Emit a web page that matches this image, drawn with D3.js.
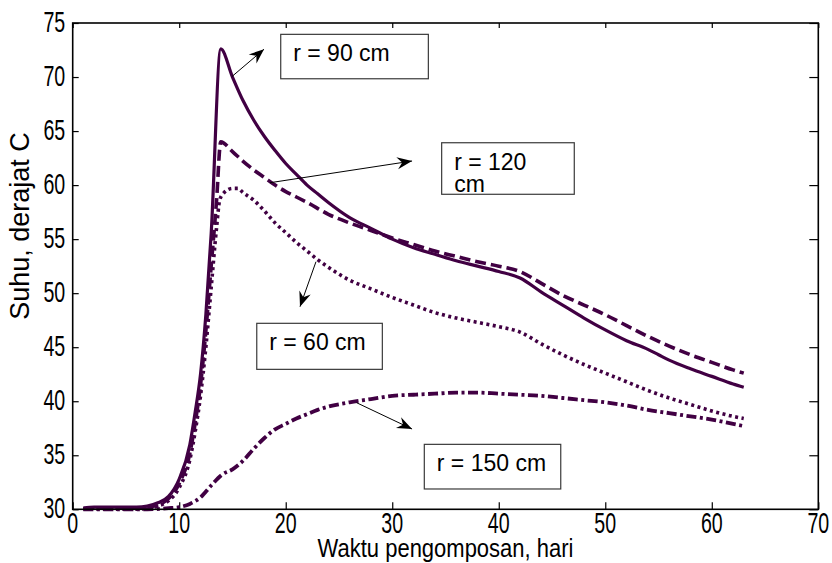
<!DOCTYPE html>
<html>
<head>
<meta charset="utf-8">
<script src="https://cdn.jsdelivr.net/npm/d3@7"></script>
<style>
  body { margin: 0; background: #fff; }
  svg { display: block; }
  text { font-family: "Liberation Sans", Arial, sans-serif; fill: #000; }
</style>
</head>
<body>
<svg id="chart" width="832" height="563"></svg>
<script>
// ---- data ----
const days90 = [1, 2, 3, 4, 5, 6, 7, 8, 9, 10, 11, 11.5, 12, 12.5, 13, 13.9, 15, 16, 17, 18, 19, 20, 21, 22, 23, 24, 26, 28, 30, 32, 34, 36, 38, 40, 42, 44, 46, 48, 50, 52, 54, 55, 56, 58, 60, 62, 63];
const temp90 = [30.1, 30.2, 30.2, 30.2, 30.2, 30.2, 30.3, 30.6, 31.2, 32.8, 36.0, 39.0, 42.5, 48.0, 55.5, 72.6, 70.0, 67.8, 66.0, 64.5, 63.2, 62.0, 61.0, 60.0, 59.2, 58.4, 57.0, 56.0, 55.0, 54.2, 53.6, 53.0, 52.5, 52.0, 51.4, 50.1, 48.9, 47.7, 46.6, 45.6, 44.8, 44.3, 43.8, 43.0, 42.3, 41.6, 41.3];

const days120 = [1, 2, 3, 4, 5, 6, 7, 8, 9, 10, 11, 11.5, 12, 12.5, 13, 13.5, 13.9, 15, 16, 17, 18, 19, 20, 21, 22, 24, 26, 28, 30, 32, 34, 36, 38, 40, 42, 44, 46, 48, 50, 52, 54, 56, 58, 60, 62, 63];
const temp120 = [30.1, 30.1, 30.1, 30.1, 30.1, 30.1, 30.2, 30.4, 31.0, 32.4, 35.2, 38.0, 41.5, 46.5, 52.5, 58.5, 64.0, 63.1, 62.2, 61.4, 60.7, 60.0, 59.4, 58.9, 58.4, 57.3, 56.5, 55.8, 55.1, 54.5, 53.9, 53.4, 52.9, 52.5, 52.0, 50.9, 49.8, 48.9, 48.0, 47.0, 46.0, 45.1, 44.3, 43.6, 42.9, 42.6];

const days60 = [1, 2, 3, 4, 5, 6, 7, 8, 9, 10, 11, 11.5, 12, 12.5, 13, 13.5, 13.8, 14.2, 15, 15.5, 16, 17, 18, 19, 20, 21, 22, 23, 24, 26, 28, 30, 32, 34, 36, 38, 40, 42, 44, 46, 48, 50, 52, 54, 56, 58, 60, 62, 63];
const temp60 = [30.0, 30.0, 30.0, 30.0, 30.0, 30.0, 30.1, 30.3, 30.8, 32.0, 34.6, 37.2, 40.5, 45.0, 50.5, 56.0, 58.6, 59.3, 59.7, 59.7, 59.3, 58.6, 57.6, 56.5, 55.6, 54.7, 53.9, 53.1, 52.4, 51.2, 50.4, 49.6, 48.9, 48.2, 47.7, 47.3, 46.9, 46.4, 45.3, 44.3, 43.4, 42.6, 41.8, 41.0, 40.3, 39.7, 39.1, 38.6, 38.4];

const days150 = [1, 3, 5, 7, 9, 10, 11, 12, 13, 14, 15, 16, 17, 18, 19, 20, 21, 22, 23, 24, 26, 28, 30, 32, 34, 36, 38, 40, 42, 44, 46, 48, 50, 52, 54, 56, 58, 60, 62, 63];
const temp150 = [30.0, 30.0, 30.0, 30.0, 30.1, 30.2, 30.5, 31.1, 32.2, 33.2, 33.7, 34.5, 35.6, 36.6, 37.4, 37.9, 38.4, 38.8, 39.2, 39.5, 39.9, 40.2, 40.5, 40.6, 40.7, 40.8, 40.8, 40.7, 40.6, 40.5, 40.3, 40.1, 39.9, 39.6, 39.2, 38.9, 38.6, 38.3, 37.9, 37.7];

const xTicks = [0, 10, 20, 30, 40, 50, 60, 70];
const yTicks = [30, 35, 40, 45, 50, 55, 60, 65, 70, 75];
const xTitle = "Waktu pengomposan, hari";
const yTitle = "Suhu, derajat C";

// ---- layout ----
const svg = d3.select("#chart");
const x = d3.scaleLinear().domain([0, 70]).range([72.7, 818.3]);
const y = d3.scaleLinear().domain([30, 75]).range([509.3, 23]);
const lineColor = "#410043";

// series styles
const series = [
  { days: days90,  temps: temp90,  dash: null,           width: 3.2 },
  { days: days120, temps: temp120, dash: "11,5",         width: 3.6 },
  { days: days60,  temps: temp60,  dash: "3,3.5",        width: 3.6 },
  { days: days150, temps: temp150, dash: "10,3.5,3,3.5", width: 3.8 }
];

// annotations (data units)
const notes = [
  { label: ["r = 90 cm"],      box: [19.53, 73.95, 33.39, 69.84], tail: [14.93, 70.03], tip: [17.96, 72.57] },
  { label: ["r = 120", "cm"],  box: [34.64, 63.92, 47.09, 59.15], tail: [18.52, 60.22], tip: [31.86, 62.23] },
  { label: ["r = 60 cm"],      box: [17.28, 47.21, 29.07, 42.95], tail: [22.84, 52.91], tip: [21.34, 48.75] },
  { label: ["r = 150 cm"],     box: [33.01, 36.01, 45.82, 31.88], tail: [26.66, 39.86], tip: [31.86, 37.43] }
];

// ---- ticks (inward, on all four sides) ----
function ticksOnly(g) { g.select(".domain").remove(); g.selectAll("line").attr("stroke", "#000").attr("stroke-width", 1.2); }
svg.append("g").attr("transform", "translate(0," + y(30) + ")")
  .call(d3.axisBottom(x).tickValues(xTicks).tickSizeInner(-7).tickSizeOuter(0).tickFormat(""))
  .call(ticksOnly);
svg.append("g").attr("transform", "translate(0," + y(75) + ")")
  .call(d3.axisTop(x).tickValues(xTicks).tickSizeInner(-5).tickSizeOuter(0).tickFormat(""))
  .call(ticksOnly);
svg.append("g").attr("transform", "translate(" + x(0) + ",0)")
  .call(d3.axisLeft(y).tickValues(yTicks).tickSizeInner(-6).tickSizeOuter(0).tickFormat(""))
  .call(ticksOnly);
svg.append("g").attr("transform", "translate(" + x(70) + ",0)")
  .call(d3.axisRight(y).tickValues(yTicks).tickSizeInner(-9).tickSizeOuter(0).tickFormat(""))
  .call(ticksOnly);

// tick labels (tall narrow look of the original)
svg.append("g").selectAll("text").data(xTicks).enter().append("text")
  .attr("transform", d => "translate(" + x(d) + "," + (y(30) + 24) + ") scale(1,1.5)")
  .attr("text-anchor", "middle")
  .style("font-size", "19.6px")
  .text(d => d);
svg.append("g").selectAll("text").data(yTicks).enter().append("text")
  .attr("transform", d => "translate(" + (x(0) - 7.5) + "," + (y(d) + 8.5) + ") scale(1,1.5)")
  .attr("text-anchor", "end")
  .style("font-size", "19.6px")
  .text(d => d);

// ---- curves ----
const line = d3.line()
  .x(d => x(d[0]))
  .y(d => y(d[1]))
  .curve(d3.curveMonotoneX);

series.forEach(function(s) {
  svg.append("path")
    .datum(d3.zip(s.days, s.temps))
    .attr("d", line)
    .attr("fill", "none")
    .attr("stroke", lineColor)
    .attr("stroke-width", s.width)
    .attr("stroke-dasharray", s.dash)
    .attr("stroke-linejoin", "round");
});

// frame
svg.append("rect")
  .attr("x", x(0)).attr("y", y(75))
  .attr("width", x(70) - x(0)).attr("height", y(30) - y(75))
  .attr("fill", "none").attr("stroke", "#000").attr("stroke-width", 1.6);

// ---- annotations ----
notes.forEach(function(n) {
  var bx = x(n.box[0]), by = y(n.box[1]);
  var bw = x(n.box[2]) - bx, bh = y(n.box[3]) - by;
  svg.append("rect")
    .attr("x", bx).attr("y", by).attr("width", bw).attr("height", bh)
    .attr("fill", "#fff").attr("stroke", "#3a3a3a").attr("stroke-width", 1.2);
  n.label.forEach(function(t, i) {
    svg.append("text")
      .attr("x", bx + 12.5)
      .attr("y", by + 27 + i * 22.7)
      .style("font-size", "23px")
      .text(t);
  });

  // arrow line + stealth-like head
  var x1 = x(n.tail[0]), y1 = y(n.tail[1]);
  var x2 = x(n.tip[0]),  y2 = y(n.tip[1]);
  var ang = Math.atan2(y2 - y1, x2 - x1) * 180 / Math.PI;
  svg.append("line")
    .attr("x1", x1).attr("y1", y1).attr("x2", x2).attr("y2", y2)
    .attr("stroke", "#000").attr("stroke-width", 1);
  svg.append("path")
    .attr("d", "M0,0 L-15,-6 L-10,0 L-15,6 Z")
    .attr("transform", "translate(" + x2 + "," + y2 + ") rotate(" + ang + ")")
    .attr("fill", "#000");
});

// ---- axis titles ----
svg.append("text")
  .attr("transform", "translate(" + ((x(0) + x(70)) / 2) + ",557) scale(1,1.18)")
  .attr("text-anchor", "middle")
  .style("font-size", "22px")
  .text(xTitle);

svg.append("text")
  .attr("transform", "translate(29,226) rotate(-90)")
  .attr("text-anchor", "middle")
  .style("font-size", "27px")
  .text(yTitle);
</script>
</body>
</html>
